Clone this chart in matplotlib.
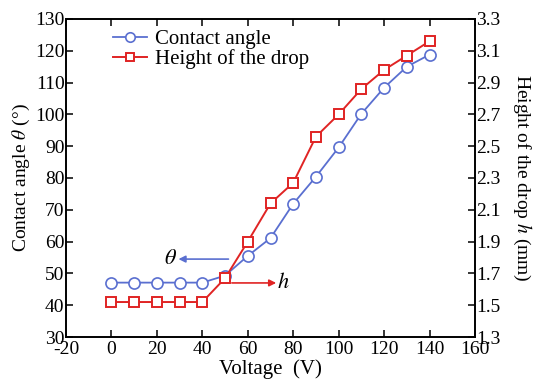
import matplotlib
matplotlib.use("Agg")
import matplotlib.pyplot as plt

voltage = [0, 10, 20, 30, 40, 50, 60, 70, 80, 90, 100, 110, 120, 130, 140]
contact_angle = [47.1, 47.1, 47.1, 47.1, 47.1, 49.3, 55.5, 61.1, 71.9, 80.4, 89.6, 100.2, 108.4, 115.0, 118.8]
drop_height = [1.52, 1.52, 1.52, 1.52, 1.52, 1.67, 1.90, 2.14, 2.27, 2.56, 2.70, 2.86, 2.98, 3.07, 3.16]

x_ticks = list(range(-20, 161, 20))
y1_ticks = list(range(30, 131, 10))
y2_ticks = [1.3, 1.5, 1.7, 1.9, 2.1, 2.3, 2.5, 2.7, 2.9, 3.1, 3.3]

plt.rcParams['font.family'] = ['Liberation Serif', 'DejaVu Serif']
plt.rcParams['mathtext.fontset'] = 'stix'
plt.rcParams['axes.unicode_minus'] = False

blue = '#5a6fd0'
red = '#e02424'

fig = plt.figure(figsize=(5.34, 3.85), dpi=100)
ax = fig.add_axes([66/534, 1-337/385, (475-66)/534, (337-19)/385])
ax2 = ax.twinx()

l1, = ax.plot(voltage, contact_angle, '-o', color=blue, mfc='white', mec=blue,
              ms=8, mew=1.2, lw=1.3, label='Contact angle', zorder=3)
l2, = ax2.plot(voltage, drop_height, '-s', color=red, mfc='white', mec=red,
               ms=7, mew=1.4, lw=1.4, label='Height of the drop', zorder=3)

ax.set_xlim(-20, 160)
ax.set_ylim(30, 130)
ax2.set_ylim(1.3, 3.3)
ax.set_xticks(x_ticks)
ax.set_yticks(y1_ticks)
ax2.set_yticks(y2_ticks)
ax2.set_yticklabels([f"{v:.1f}" for v in y2_ticks])

for a in (ax, ax2):
    for s in a.spines.values():
        s.set_linewidth(1.2)
ax.tick_params(axis='both', direction='in', length=5, width=1.1, labelsize=14, pad=1, top=True)
ax.tick_params(axis='x', pad=3)
ax2.tick_params(axis='y', direction='in', length=5, width=1.1, labelsize=14, pad=1)

ax.set_xlabel('Voltage  (V)', fontsize=15, labelpad=1)
ax.set_ylabel(r'Contact angle $\theta$ (°)', fontsize=14, labelpad=2)
ax2.set_ylabel(r'Height of the drop $h$ (mm)', fontsize=14, rotation=270, labelpad=23)

leg = ax.legend([l1, l2], ['Contact angle', 'Height of the drop'], loc='upper left',
                bbox_to_anchor=(0.075, 1.02), frameon=False, fontsize=15,
                handlelength=1.6, handletextpad=0.4, labelspacing=0.0, borderpad=0.3,
                markerscale=0.85)

# annotations (positions in data coords of the left axis)
ax.annotate('', xy=(29.5, 54.5), xytext=(51.5, 54.5),
            arrowprops=dict(arrowstyle='-|>', color=blue, lw=1.2, mutation_scale=10,
                            shrinkA=0, shrinkB=0))
ax.text(29, 54.5, r'$\theta$', fontsize=16, ha='right', va='center')
ax.annotate('', xy=(72.5, 47.0), xytext=(53, 47.0),
            arrowprops=dict(arrowstyle='-|>', color=red, lw=1.2, mutation_scale=10,
                            shrinkA=0, shrinkB=0))
ax.text(73, 47.0, r'$h$', fontsize=16, ha='left', va='center')

fig.savefig('out.png', dpi=100)
